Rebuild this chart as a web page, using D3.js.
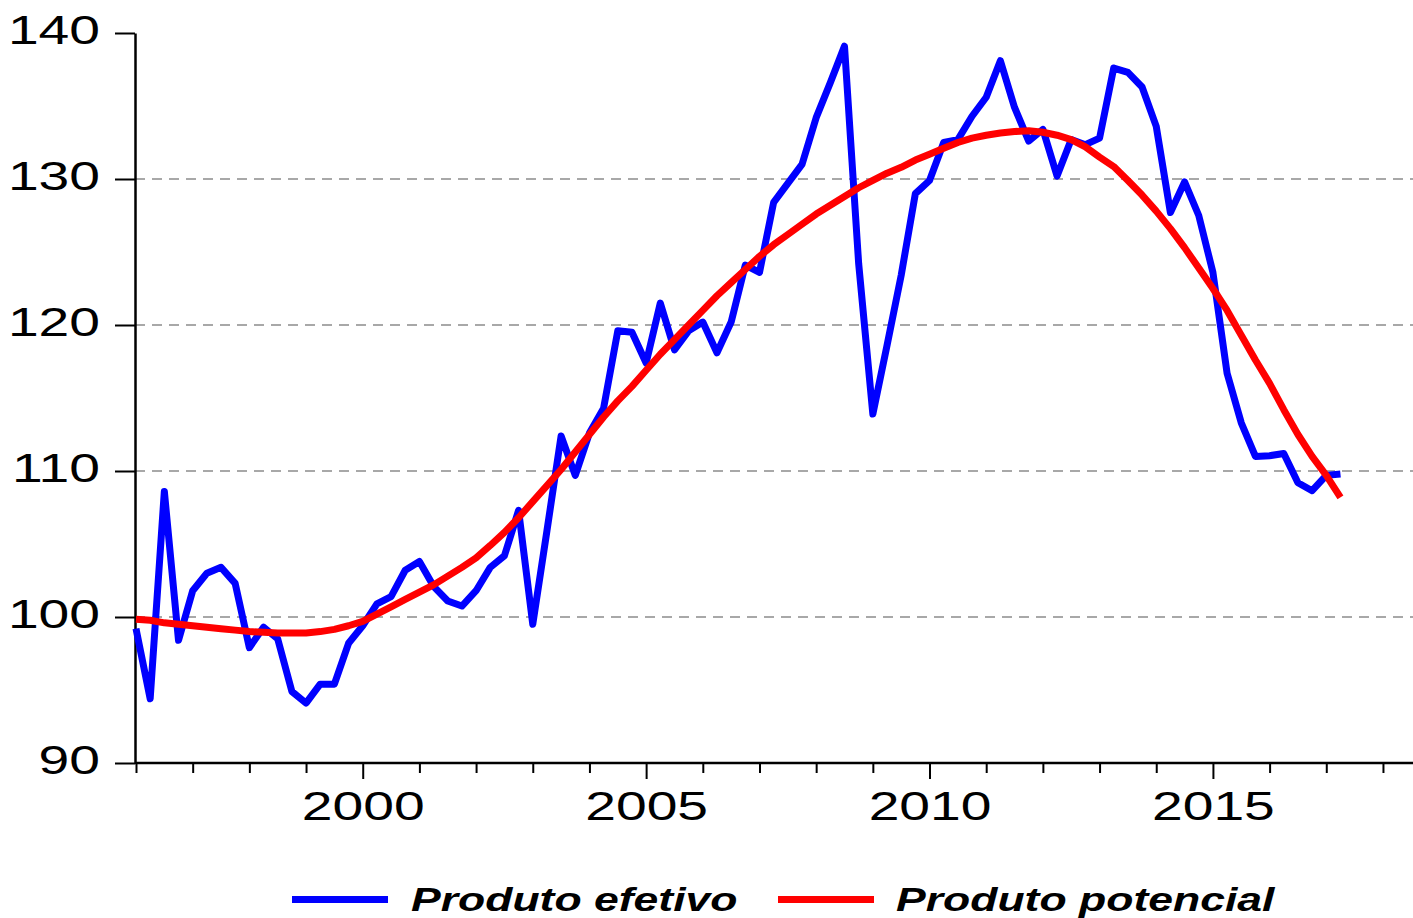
<!DOCTYPE html>
<html>
<head>
<meta charset="utf-8">
<script src="https://cdn.jsdelivr.net/npm/d3@7"></script>
<style>
    body { margin: 0; background: #fff; }
    svg { display: block; font-family: "Liberation Sans", Arial, sans-serif; }
</style>
</head>
<body>
<div id="chart"></div>
<script>
// Quarterly series, 1996Q1 .. 2017Q2
const startYear = 1996;
const efetivo = [
    99.2, 94.4, 108.6, 98.4, 101.8, 103.0, 103.4, 102.3,
    97.9, 99.3, 98.5, 94.9, 94.1, 95.4, 95.4, 98.2,
    99.4, 100.9, 101.4, 103.2, 103.8, 102.1, 101.1, 100.75,
    101.8, 103.4, 104.2, 107.3, 99.5, 105.9, 112.4, 109.7,
    112.6, 114.3, 119.6, 119.5, 117.4, 121.5, 118.3, 119.6,
    120.2, 118.1, 120.2, 124.1, 123.6, 128.4, 129.7, 131.0,
    134.2, 136.6, 139.1, 124.2, 113.9, 118.6, 123.4, 129.0,
    129.9, 132.5, 132.7, 134.3, 135.6, 138.1, 134.9, 132.6,
    133.4, 130.2, 132.7, 132.35, 132.8, 137.6, 137.3, 136.3,
    133.6, 127.7, 129.8, 127.5, 123.6, 116.7, 113.3, 111.0,
    111.05, 111.2, 109.2, 108.65, 109.7, 109.8
];
const potencial = [
    99.85, 99.78, 99.6, 99.5, 99.4, 99.3, 99.2, 99.1,
    99.0, 98.95, 98.9, 98.9, 98.9, 99.0, 99.15, 99.4,
    99.7, 100.2, 100.7, 101.2, 101.7, 102.2, 102.8, 103.4,
    104.05, 104.9, 105.8, 106.8, 107.9, 109.0, 110.1, 111.3,
    112.5, 113.7, 114.8, 115.8, 116.9, 118.0, 119.0, 120.0,
    121.0, 122.0, 122.9, 123.8, 124.7, 125.5, 126.2, 126.9,
    127.6, 128.2, 128.8, 129.4, 129.9, 130.4, 130.8, 131.3,
    131.7, 132.1, 132.5, 132.8, 133.0, 133.15, 133.25, 133.3,
    133.2, 133.0, 132.7, 132.2, 131.5, 130.85, 129.9, 128.9,
    127.8, 126.6, 125.3, 123.9, 122.5, 121.0, 119.3, 117.6,
    116.0, 114.2, 112.5, 111.0, 109.7, 108.2
];
const yTicks = [90, 100, 110, 120, 130, 140];
const gridValues = [100, 110, 120, 130];
const yearTicks = d3.range(1996, 2019);
const labelYears = [2000, 2005, 2010, 2015];
const seriesInfo = [
    { name: "efetivo", label: "Produto efetivo", color: "#0000ff", values: efetivo },
    { name: "potencial", label: "Produto potencial", color: "#ff0000", values: potencial }
];

const width = 1413, height = 918;
const stretch = 1.38; // the original text is drawn wide

const svg = d3.select("#chart").append("svg")
    .attr("width", width)
    .attr("height", height);

const x = d3.scaleLinear()
    .domain([1996, 2018.53])
    .range([136, 1413]);

const y = d3.scaleLinear()
    .domain([90, 140])
    .range([763, 33]);

// Dashed gridlines
svg.selectAll(".grid")
    .data(gridValues)
    .join("line")
    .attr("class", "grid")
    .attr("x1", 135)
    .attr("x2", width)
    .attr("y1", d => y(d))
    .attr("y2", d => y(d))
    .attr("stroke", "#8c8c8c")
    .attr("stroke-width", 1.3)
    .attr("stroke-dasharray", "10,7");

// Y axis
const yAxis = svg.append("g")
    .attr("transform", "translate(135,0)")
    .call(d3.axisLeft(y).tickValues(yTicks).tickSize(20).tickSizeOuter(0));
yAxis.select(".domain").attr("stroke-width", 2.5);
yAxis.selectAll(".tick line").attr("stroke-width", 2);
yAxis.selectAll(".tick text")
    .attr("x", null)
    .attr("dy", null)
    .attr("transform", `translate(-35,10) scale(${stretch},1)`)
    .attr("text-anchor", "end")
    .style("font-size", "40px")
    .attr("fill", "#000");

// X axis, minor tick each year, longer ticks on labelled years
const xAxis = svg.append("g")
    .attr("transform", "translate(0,763)")
    .call(d3.axisBottom(x)
        .tickValues(yearTicks)
        .tickSize(10)
        .tickSizeOuter(0)
        .tickFormat(d => labelYears.includes(d) ? String(d) : ""));
xAxis.select(".domain")
    .attr("d", `M135,0H${width}`)
    .attr("stroke-width", 2.5);
xAxis.selectAll(".tick line")
    .attr("stroke-width", 2)
    .attr("y2", d => labelYears.includes(d) ? 16 : 10);
xAxis.selectAll(".tick text")
    .attr("y", null)
    .attr("dy", null)
    .attr("transform", `translate(0,57) scale(${stretch},1)`)
    .style("font-size", "40px")
    .attr("fill", "#000");

// Lines
const line = d3.line()
    .x((d, i) => x(startYear + i / 4))
    .y(d => y(d));

seriesInfo.forEach(s => {
    svg.append("path")
        .datum(s.values)
        .attr("class", `line ${s.name}`)
        .attr("fill", "none")
        .attr("stroke", s.color)
        .attr("stroke-width", 7)
        .attr("stroke-linejoin", "round")
        .attr("d", line);
});

// Legend
const legendPos = [
    { lineX: 292, textX: 411 },
    { lineX: 778, textX: 896 }
];
const legend = svg.append("g").attr("class", "legend");
seriesInfo.forEach((s, i) => {
    const p = legendPos[i];
    legend.append("line")
        .attr("x1", p.lineX)
        .attr("x2", p.lineX + 96)
        .attr("y1", 899.5)
        .attr("y2", 899.5)
        .attr("stroke", s.color)
        .attr("stroke-width", 7);
    legend.append("text")
        .attr("transform", `translate(${p.textX},910.5) scale(1.31,1)`)
        .style("font-size", "34px")
        .style("font-weight", "bold")
        .style("font-style", "italic")
        .text(s.label);
});
</script>
</body>
</html>
